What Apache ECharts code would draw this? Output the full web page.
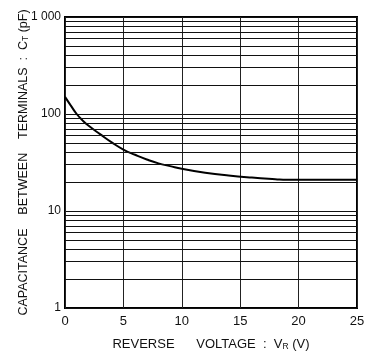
<!DOCTYPE html>
<html><head><meta charset="utf-8">
<script src="https://cdn.jsdelivr.net/npm/echarts@6/dist/echarts.min.js"></script>
<style>html,body{margin:0;padding:0;background:#fff}#c{width:374px;height:356px}</style>
</head><body><div id="c"></div>
<script>
const voltage = [0, 0.5, 1, 1.5, 2, 3, 4, 5, 6, 7, 8, 9, 10, 12, 14, 16, 18, 19, 20, 22, 25];
const capacitance = [150, 122, 100, 86, 76, 62, 51, 43, 38, 34, 31, 29, 27.2, 24.8, 23.2, 22.1, 21.3, 21, 21, 21, 21];
const xTicks = [0, 5, 10, 15, 20, 25];
const yTickLabels = {1: '1', 10: '10', 100: '100', 1000: '1 000'};
const minorGridValues = [2,3,4,5,6,7,8,9,20,30,40,50,60,70,80,90,200,300,400,500,600,700,800,900];

const chart = echarts.init(document.getElementById('c'));
const font = 'Liberation Sans, Arial, sans-serif';
const sub = {s: {fontSize: 8.5, fontFamily: font, color: '#111', verticalAlign: 'bottom', padding: [0,0,0,0]}};
chart.setOption({
  animation: false,
  grid: {left: 65, right: 17, top: 17, bottom: 48, show: true, borderColor: '#000', borderWidth: 2, containLabel: false},
  xAxis: {
    type: 'value', min: 0, max: 25, interval: 5,
    axisLine: {show: false}, axisTick: {show: false},
    axisLabel: {color: '#111', fontSize: 13, fontFamily: font, margin: 7, formatter: v => xTicks.includes(v) ? String(v) : ''},
    splitLine: {show: true, lineStyle: {color: '#222', width: 1}},
    name: 'REVERSE      VOLTAGE  :  V{s|R} (V)', nameLocation: 'middle', nameGap: 30,
    nameTextStyle: {color: '#111', fontSize: 13, fontFamily: font, rich: sub}
  },
  yAxis: {
    type: 'log', logBase: 10, min: 1, max: 1000,
    axisLine: {show: false}, axisTick: {show: false},
    axisLabel: {color: '#111', fontSize: 12, fontFamily: font, margin: 4, formatter: v => yTickLabels[v] || ''},
    splitLine: {show: true, lineStyle: {color: '#111', width: 1.2}},
    name: 'CAPACITANCE    BETWEEN    TERMINALS  :  C{s|T} (pF)', nameLocation: 'middle', nameGap: 35, nameRotate: 90,
    nameMoveOverlap: false,
    nameTextStyle: {color: '#111', fontSize: 12.5, fontFamily: font, rich: sub}
  },
  series: [{
    type: 'line', smooth: true, showSymbol: false,
    data: voltage.map((v, i) => [v, capacitance[i]]),
    lineStyle: {color: '#000', width: 2},
    markLine: {
      silent: true, symbol: 'none', label: {show: false},
      lineStyle: {color: '#111', width: 1.2, type: 'solid'},
      data: minorGridValues.map(v => ({yAxis: v}))
    }
  }]
});
</script></body></html>
